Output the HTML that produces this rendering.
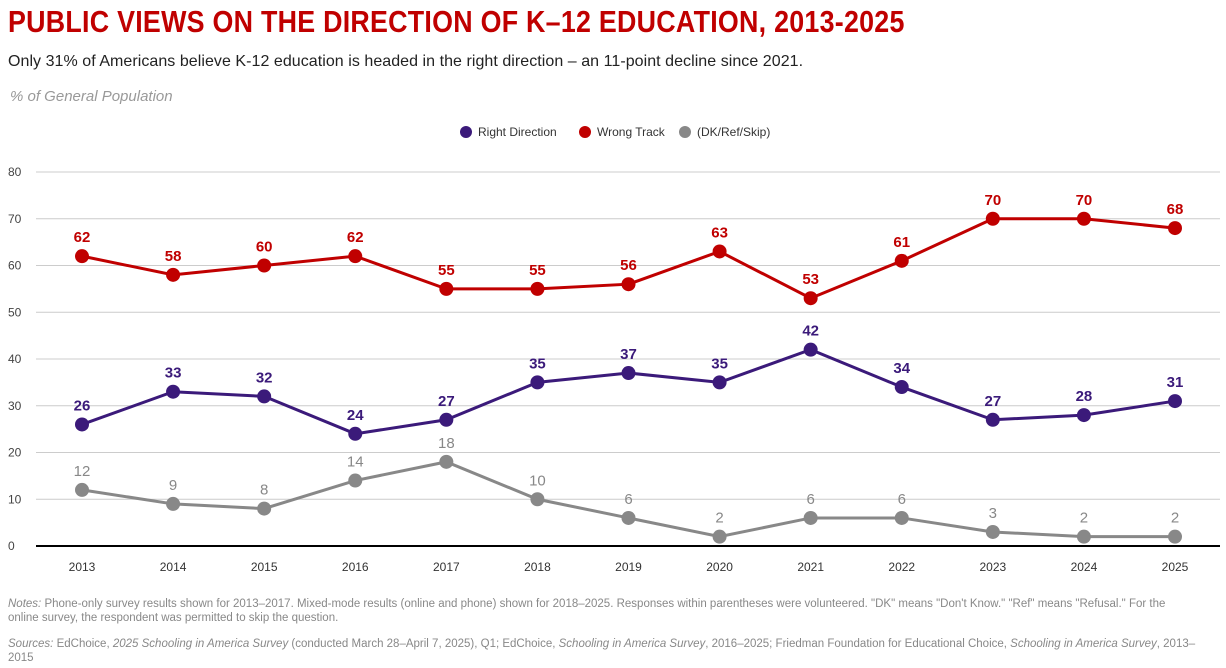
<!DOCTYPE html>
<html><head><meta charset="utf-8">
<style>
body{margin:0;width:1226px;height:668px;background:#fff;font-family:"Liberation Sans",sans-serif;overflow:hidden;position:relative}
.t{position:absolute;left:8px;top:4px;font-family:"Liberation Sans Narrow","Liberation Sans",sans-serif;font-weight:bold;font-size:31px;color:#c00000;letter-spacing:0.3px;transform:scaleX(0.865);transform-origin:left;white-space:nowrap}
.s{position:absolute;left:8px;top:53px;font-size:16px;color:#222;letter-spacing:0.05px}
.u{position:absolute;left:10px;top:88px;font-size:15px;color:#999;font-style:italic}
.n{position:absolute;left:8px;font-size:11.5px;color:#888;line-height:14px;width:1190px}
</style></head><body>
<div class="t">PUBLIC VIEWS ON THE DIRECTION OF K–12 EDUCATION, 2013-2025</div>
<div class="s">Only 31% of Americans believe K-12 education is headed in the right direction – an 11-point decline since 2021.</div>
<div class="u">% of General Population</div>
<svg id="c" width="1226" height="668" style="position:absolute;left:0;top:0"></svg>
<div class="n" style="top:597px"><i>Notes:</i> Phone-only survey results shown for 2013–2017. Mixed-mode results (online and phone) shown for 2018–2025. Responses within parentheses were volunteered. "DK" means "Don't Know." "Ref" means "Refusal." For the online survey, the respondent was permitted to skip the question.</div>
<div class="n" style="top:637px"><i>Sources:</i> EdChoice, <i>2025 Schooling in America Survey</i> (conducted March 28–April 7, 2025), Q1; EdChoice, <i>Schooling in America Survey</i>, 2016–2025; Friedman Foundation for Educational Choice, <i>Schooling in America Survey</i>, 2013–2015</div>
<script>
const years=[2013,2014,2015,2016,2017,2018,2019,2020,2021,2022,2023,2024,2025];
const rightDirection=[26,33,32,24,27,35,37,35,42,34,27,28,31];
const wrongTrack=[62,58,60,62,55,55,56,63,53,61,70,70,68];
const dkRefSkip=[12,9,8,14,18,10,6,2,6,6,3,2,2];
const yTicks=[0,10,20,30,40,50,60,70,80];
const svg=document.getElementById('c');const NS='http://www.w3.org/2000/svg';
function x(i){return 82+i*(1175-82)/(years.length-1);}
function y(v){return 546-v*(546-172)/80;}
function mk(t,a,p){const e=document.createElementNS(NS,t);for(const k in a)e.setAttribute(k,a[k]);(p||svg).appendChild(e);return e;}
yTicks.forEach(v=>{
 if(v>0){const g=mk('line',{x1:36,x2:1220,y1:y(v),y2:y(v),stroke:'#ccc','stroke-width':1});
 
 }
 const t=mk('text',{x:8,y:y(v)+4,'font-size':12,fill:'#444'});t.textContent=v;
 
 
});
const ax=mk('line',{x1:36,x2:1220,y1:546,y2:546,stroke:'#000','stroke-width':2});


years.forEach((yr,i)=>{const t=mk('text',{x:x(i),y:571,'font-size':12,fill:'#333','text-anchor':'middle'});t.textContent=yr;
 
 });
const series=[[wrongTrack,'#c00000','wrong-track',true],[rightDirection,'#3b1a7a','right-direction',true],[dkRefSkip,'#888','dk-ref-skip',false]];
series.forEach(([d,c,n,b])=>{
 const p=mk('polyline',{points:d.map((v,i)=>x(i)+','+y(v)).join(' '),fill:'none',stroke:c,'stroke-width':3});
 
 
 d.forEach((v,i)=>{
  const ci=mk('circle',{cx:x(i),cy:y(v),r:7,fill:c});
  
  
  const t=mk('text',{x:x(i),y:y(v)-14,'font-size':15,'font-weight':b?'bold':'normal',fill:c,'text-anchor':'middle'});t.textContent=v;
  
  
 });
});
const leg=[['Right Direction','#3b1a7a',460],['Wrong Track','#c00000',579],['(DK/Ref/Skip)','#888',679]];
leg.forEach(([l,c,lx])=>{
 const ci=mk('circle',{cx:lx+6,cy:132,r:6,fill:c});
 
 
 const t=mk('text',{x:lx+18,y:136,'font-size':12,fill:'#333'});t.textContent=l;
 
 
});
</script>
</body></html>
